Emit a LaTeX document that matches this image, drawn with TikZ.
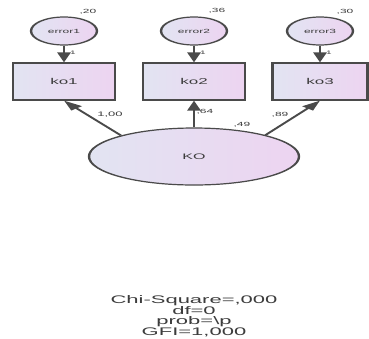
\documentclass[tikz,border=0pt]{standalone}
\usepackage{fontspec}
\setmainfont{Liberation Sans}
\usetikzlibrary{shapes.geometric,arrows.meta}
\definecolor{edge}{HTML}{4A4A4A}
\definecolor{ink}{HTML}{3C3C3C}
\definecolor{fillL}{HTML}{E2E4F2}
\definecolor{fillR}{HTML}{EDD4F1}
\begin{document}
\begin{tikzpicture}[x=1pt,y=-1pt,
  shadedfill/.style={left color=fillL,right color=fillR,draw=edge,line width=1.2pt},
  errnode/.style={shadedfill,ellipse,inner sep=0pt,minimum width=33pt,minimum height=28pt,
    font=\fontsize{6}{6}\selectfont,text=ink},
  obsnode/.style={shadedfill,rectangle,inner sep=0pt,minimum width=51pt,minimum height=37pt,
    font=\fontsize{8.5}{8.5}\selectfont,text=ink},
  latnode/.style={shadedfill,ellipse,inner sep=0pt,minimum width=105pt,minimum height=57pt,
    font=\fontsize{8}{8}\selectfont,text=ink},
  link/.style={draw=edge,line width=1.4pt,-{Triangle[length=10pt,width=6.5pt]}},
  est/.style={font=\fontsize{6}{6}\selectfont,text=ink,inner sep=0pt},
  unit/.style={est,font=\fontsize{5}{5}\selectfont},
  fitinfo/.style={font=\fontsize{11}{10.5}\selectfont,text=ink,inner sep=0pt,align=center},
]
\useasboundingbox[fill=white] (0,0) rectangle (369,338);
% everything is laid out at half width, then stretched horizontally
\begin{scope}[transform canvas={xscale=2}]
  % error terms
  \node[errnode] (e1) at (32,31) {error1};
  \node[errnode] (e2) at (97,31) {error2};
  \node[errnode] (e3) at (160,31) {error3};
  % observed indicators
  \node[obsnode] (k1) at (32,81.5) {ko1};
  \node[obsnode] (k2) at (97,81.5) {ko2};
  \node[obsnode,minimum width=47.5pt] (k3) at (160,81.5) {ko3};
  % latent factor
  \node[latnode] (KO) at (97,156.5) {KO};
  % paths
  \draw[link] (e1) -- (k1);
  \draw[link] (e2) -- (k2);
  \draw[link] (e3) -- (k3);
  \draw[link] (KO.150) -- (k1.south);
  \draw[link] (KO.north) -- (k2.south);
  \draw[link] (KO.31) -- (k3.south);
  % estimates
  \node[est] (v1) at (44,12) {,20};
  \node[est] (v2) at (108.5,11) {,36};
  \node[est] (v3) at (172.5,12) {,30};
  \node[unit] (w1) at (36.5,53) {1};
  \node[unit] (w2) at (101.5,53) {1};
  \node[unit] (w3) at (164.5,53) {1};
  \node[est,font=\fontsize{6.5}{6.5}\selectfont] (l1) at (55,115) {1,00};
  \node[est] (l2) at (102.5,112) {,64};
  \node[est] (l3) at (140,115) {,89};
  \node[est] (r2) at (121,125) {,49};
  % fit summary
  \node[fitinfo,anchor=north] (fit) at (97,295.5)
    {Chi-Square=,000\\df=0\\prob=\textbackslash p\\GFI=1,000};
\end{scope}
\end{tikzpicture}
\end{document}
